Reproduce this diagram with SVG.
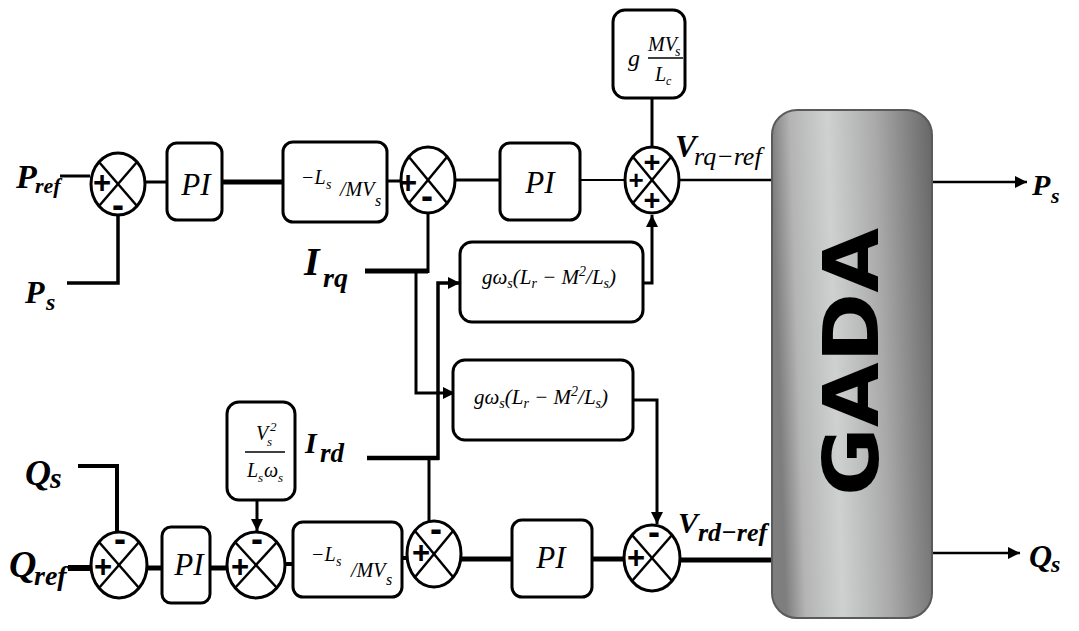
<svg xmlns="http://www.w3.org/2000/svg" width="1079" height="631" viewBox="0 0 1079 631">
  <style>
    .box { fill: #fff; stroke: #000; stroke-width: 3; }
    .sum { fill: #fff; stroke: #000; stroke-width: 3; }
    .xl { stroke: #000; stroke-width: 2.5; }
    .ln { fill: none; stroke: #000; stroke-linejoin: miter; }
    .lbl { font-family: "Liberation Serif", serif; font-weight: bold; font-style: italic; fill: #000; }
    .math { font-family: "Liberation Serif", serif; font-style: italic; fill: #000; }
    .sign { font-family: "Liberation Sans", sans-serif; font-weight: bold; text-anchor: middle; fill: #000; }
    .plus { font-size: 31px; }
    .minus { font-size: 36px; }
    .pi { font-family: "Liberation Serif", serif; font-style: italic; font-size: 31px; text-anchor: middle; }
  </style>
  <defs>
    <marker id="arr" viewBox="0 0 10 10" refX="10" refY="5" markerWidth="13" markerHeight="12" markerUnits="userSpaceOnUse" orient="auto">
      <path d="M0,0 L10,5 L0,10 z" fill="#000"/>
    </marker>
    <linearGradient id="gadaFill" x1="0" y1="0.1" x2="1" y2="0">
      <stop offset="0" stop-color="#7e7e7e"/>
      <stop offset="0.12" stop-color="#b4b4b4"/>
      <stop offset="0.35" stop-color="#cfd1d1"/>
      <stop offset="0.65" stop-color="#a9a9a9"/>
      <stop offset="1" stop-color="#666"/>
    </linearGradient>
  </defs>

  <rect width="1079" height="631" fill="#fff"/>

  <!-- signal lines -->
  <g id="connectors">
    <!-- active power loop -->
    <path class="ln" d="M60,176 H90" stroke-width="3"/>
    <path class="ln" d="M67,283 H118 V216" stroke-width="3.5"/>
    <path class="ln" d="M145,182 H167" stroke-width="3"/>
    <path class="ln" d="M222,182 H283" stroke-width="5"/>
    <path class="ln" d="M387,181 H401" stroke-width="3"/>
    <path class="ln" d="M455,180 H500" stroke-width="3"/>
    <path class="ln" d="M580,180 H625" stroke-width="2"/>
    <path class="ln" d="M680,180 H773" stroke-width="2.5"/>
    <path class="ln" d="M652,98 V147" stroke-width="3"/>
    <path class="ln" d="M365,271 H428" stroke-width="5"/>
    <path class="ln" d="M428,273 V212" stroke-width="3"/>
    <path class="ln" d="M416,271 V393 H455" stroke-width="3" marker-end="url(#arr)"/>
    <path class="ln" d="M643,283 H652 V215" stroke-width="3" marker-end="url(#arr)"/>
    <!-- cross-coupling from I_rd -->
    <path class="ln" d="M367,458 H439" stroke-width="4.5"/>
    <path class="ln" d="M438,460 V283 H460" stroke-width="3.5" marker-end="url(#arr)"/>
    <path class="ln" d="M429,458 V522" stroke-width="3"/>
    <path class="ln" d="M633,400 H657 V524" stroke-width="3" marker-end="url(#arr)"/>
    <!-- reactive power loop -->
    <path class="ln" d="M78,466 H117 V532" stroke-width="4"/>
    <path class="ln" d="M68,568 H91" stroke-width="6"/>
    <path class="ln" d="M147,568 H162" stroke-width="5"/>
    <path class="ln" d="M210,568 H227" stroke-width="5"/>
    <path class="ln" d="M257,500 V531" stroke-width="3" marker-end="url(#arr)"/>
    <path class="ln" d="M285,564 H293" stroke-width="4"/>
    <path class="ln" d="M402,558 H407" stroke-width="4"/>
    <path class="ln" d="M461,559 H512" stroke-width="5"/>
    <path class="ln" d="M592,559 H624" stroke-width="5"/>
    <path class="ln" d="M680,560 H773" stroke-width="5"/>
    <!-- machine outputs -->
    <path class="ln" d="M932,182 H1027" stroke-width="2.5" marker-end="url(#arr)"/>
    <path class="ln" d="M932,553 H1020" stroke-width="2.5" marker-end="url(#arr)"/>
  </g>

  <!-- input / output labels -->
  <g id="labels">
    <text class="lbl"><tspan x="16" y="188" font-size="34">P</tspan><tspan x="35" y="193" font-size="22">ref</tspan></text>
    <text class="lbl"><tspan x="25" y="303" font-size="32">P</tspan><tspan x="46" y="310" font-size="24">s</tspan></text>
    <text class="lbl"><tspan x="304" y="275" font-size="40">I</tspan><tspan x="323" y="287" font-size="28">rq</tspan></text>
    <text class="lbl"><tspan x="305" y="453" font-size="30">I</tspan><tspan x="320" y="462" font-size="27">rd</tspan></text>
    <text class="lbl"><tspan x="25" y="485" font-size="36">Q</tspan><tspan x="50" y="488" font-size="30">s</tspan></text>
    <text class="lbl"><tspan x="9" y="577" font-size="38">Q</tspan><tspan x="34" y="585" font-size="28">ref</tspan></text>
    <text><tspan class="lbl" x="675" y="157" font-size="32">V</tspan><tspan class="math" x="694" y="165" font-size="26">rq−ref</tspan></text>
    <text class="lbl"><tspan x="678" y="533" font-size="30">V</tspan><tspan x="698" y="541" font-size="26">rd−ref</tspan></text>
    <text class="lbl"><tspan x="1032" y="195" font-size="30">P</tspan><tspan x="1051" y="203" font-size="22">s</tspan></text>
    <text class="lbl"><tspan x="1029" y="567" font-size="32">Q</tspan><tspan x="1051" y="572" font-size="24">s</tspan></text>
  </g>

  <!-- active power (q-axis) chain -->
  <g id="sum-p1">
    <ellipse class="sum" cx="118" cy="184" rx="27" ry="31"/>
    <line class="xl" x1="99" y1="162" x2="137" y2="206"/>
    <line class="xl" x1="99" y1="206" x2="137" y2="162"/>
    <text class="sign plus" x="102" y="193">+</text>
    <text class="sign minus" x="118" y="217">-</text>
  </g>
  <g id="pi-p1">
    <rect class="box" x="167" y="143" width="55" height="77" rx="10"/>
    <text class="pi" x="196" y="195">PI</text>
  </g>
  <g id="gain-p">
    <rect class="box" x="283" y="142" width="104" height="80" rx="10"/>
    <text class="math"><tspan x="301" y="184" font-size="20">−L</tspan><tspan x="326" y="189" font-size="14">s</tspan><tspan x="340" y="196" font-size="20">/MV</tspan><tspan x="375" y="206" font-size="16">s</tspan></text>
  </g>
  <g id="sum-p2">
    <ellipse class="sum" cx="428" cy="180" rx="27" ry="33"/>
    <line class="xl" x1="409" y1="157" x2="447" y2="203"/>
    <line class="xl" x1="409" y1="203" x2="447" y2="157"/>
    <text class="sign plus" x="408" y="193">+</text>
    <text class="sign minus" x="427" y="208">-</text>
  </g>
  <g id="pi-p2">
    <rect class="box" x="500" y="143" width="80" height="77" rx="10"/>
    <text class="pi" x="540" y="193">PI</text>
  </g>
  <g id="gain-mv">
    <rect class="box" x="613" y="10" width="72" height="88" rx="12"/>
    <text class="math" x="628" y="66" font-size="24">g</text>
    <text class="math"><tspan x="648" y="51" font-size="20">MV</tspan><tspan x="675" y="56" font-size="14">s</tspan></text>
    <line x1="648" y1="58" x2="683" y2="58" stroke="#000" stroke-width="1.5"/>
    <text class="math"><tspan x="655" y="81" font-size="20">L</tspan><tspan x="666" y="85" font-size="12">c</tspan></text>
  </g>
  <g id="sum-vrq">
    <ellipse class="sum" cx="652" cy="180" rx="27" ry="33"/>
    <line class="xl" x1="633" y1="157" x2="671" y2="203"/>
    <line class="xl" x1="633" y1="203" x2="671" y2="157"/>
    <text class="sign" x="636" y="189" font-size="26">+</text>
    <text class="sign" x="652" y="172" font-size="29">+</text>
    <text class="sign" x="652" y="210" font-size="29">+</text>
  </g>
  <g id="coupling-q">
    <rect class="box" x="460" y="242" width="183" height="80" rx="12"/>
    <text class="math" font-size="21"><tspan x="482" y="284">gω</tspan><tspan dy="4" font-size="14">s</tspan><tspan dy="-4">(L</tspan><tspan dy="4" font-size="14">r</tspan><tspan dy="-4"> − M</tspan><tspan dy="-8" font-size="14">2</tspan><tspan dy="8">/L</tspan><tspan dy="4" font-size="14">s</tspan><tspan dy="-4">)</tspan></text>
  </g>

  <!-- cross-coupling for the d-axis -->
  <g id="coupling-d">
    <rect class="box" x="453" y="360" width="180" height="80" rx="12"/>
    <text class="math" font-size="21"><tspan x="474" y="404">gω</tspan><tspan dy="4" font-size="14">s</tspan><tspan dy="-4">(L</tspan><tspan dy="4" font-size="14">r</tspan><tspan dy="-4"> − M</tspan><tspan dy="-8" font-size="14">2</tspan><tspan dy="8">/L</tspan><tspan dy="4" font-size="14">s</tspan><tspan dy="-4">)</tspan></text>
  </g>

  <!-- reactive power (d-axis) chain -->
  <g id="sum-q1">
    <ellipse class="sum" cx="119" cy="565" rx="28" ry="33"/>
    <line class="xl" x1="99" y1="542" x2="139" y2="588"/>
    <line class="xl" x1="99" y1="588" x2="139" y2="542"/>
    <text class="sign minus" x="120" y="551">-</text>
    <text class="sign plus" x="103" y="577">+</text>
  </g>
  <g id="pi-q1">
    <rect class="box" x="162" y="527" width="48" height="76" rx="9"/>
    <text class="pi" x="189" y="575">PI</text>
  </g>
  <g id="gain-vs2">
    <rect class="box" x="227" y="402" width="68" height="98" rx="12"/>
    <text class="math"><tspan x="256" y="440" font-size="20">V</tspan><tspan x="267" y="446" font-size="13">s</tspan><tspan x="270" y="431" font-size="13">2</tspan></text>
    <line x1="245" y1="452" x2="285" y2="452" stroke="#000" stroke-width="1.5"/>
    <text class="math"><tspan x="247" y="477" font-size="20">L</tspan><tspan x="258" y="482" font-size="13">s</tspan><tspan x="264" y="477" font-size="20">ω</tspan><tspan x="278" y="482" font-size="13">s</tspan></text>
  </g>
  <g id="sum-q2">
    <ellipse class="sum" cx="256" cy="565" rx="29" ry="33"/>
    <line class="xl" x1="235" y1="542" x2="277" y2="588"/>
    <line class="xl" x1="235" y1="588" x2="277" y2="542"/>
    <text class="sign minus" x="257" y="551">-</text>
    <text class="sign plus" x="240" y="577">+</text>
  </g>
  <g id="gain-q">
    <rect class="box" x="293" y="522" width="109" height="75" rx="10"/>
    <text class="math"><tspan x="311" y="561" font-size="20">−L</tspan><tspan x="336" y="566" font-size="14">s</tspan><tspan x="351" y="577" font-size="20">/MV</tspan><tspan x="386" y="585" font-size="16">s</tspan></text>
  </g>
  <g id="sum-q3">
    <ellipse class="sum" cx="434" cy="554" rx="27" ry="33"/>
    <line class="xl" x1="415" y1="531" x2="453" y2="577"/>
    <line class="xl" x1="415" y1="577" x2="453" y2="531"/>
    <text class="sign minus" x="436" y="541">-</text>
    <text class="sign plus" x="421" y="563">+</text>
  </g>
  <g id="pi-q2">
    <rect class="box" x="512" y="520" width="80" height="77" rx="10"/>
    <text class="pi" x="551" y="568">PI</text>
  </g>
  <g id="sum-vrd">
    <ellipse class="sum" cx="652" cy="558" rx="28" ry="33"/>
    <line class="xl" x1="632" y1="535" x2="672" y2="581"/>
    <line class="xl" x1="632" y1="581" x2="672" y2="535"/>
    <text class="sign minus" x="654" y="544">-</text>
    <text class="sign plus" x="636" y="568">+</text>
  </g>

  <!-- doubly fed induction machine -->
  <g id="gada">
    <rect x="772" y="110" width="160" height="508" rx="25" fill="url(#gadaFill)" stroke="#5a5a5a" stroke-width="2"/>
    <text transform="translate(878,362) rotate(-90)" text-anchor="middle" font-family="'DejaVu Sans', sans-serif" font-weight="bold" font-size="76" textLength="268" lengthAdjust="spacingAndGlyphs" fill="#000">GADA</text>
  </g>
</svg>
